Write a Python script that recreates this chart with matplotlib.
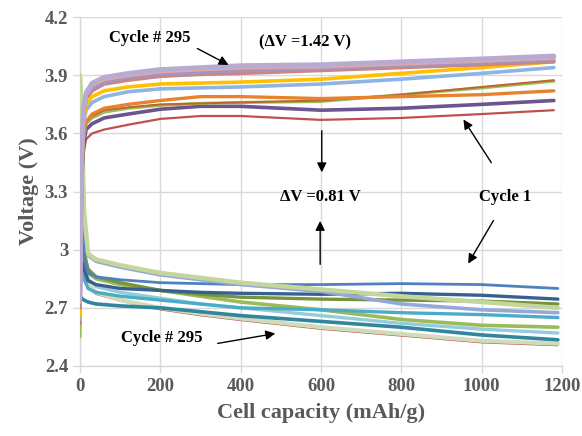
import matplotlib
matplotlib.use("Agg")
import matplotlib.pyplot as plt

# charge curves (upper family)
charge_x = [0, 4, 8, 15, 30, 60, 120, 200, 300, 400, 600, 800, 1000, 1180]
charge_curves = {
    "red":       [2.72, 3.30, 3.48, 3.57, 3.60, 3.62, 3.645, 3.675, 3.69, 3.69, 3.67, 3.68, 3.70, 3.72],
    "purple":    [2.70, 3.32, 3.53, 3.62, 3.65, 3.68, 3.70, 3.725, 3.74, 3.74, 3.72, 3.73, 3.75, 3.77],
    "green":     [2.55, 3.35, 3.56, 3.65, 3.68, 3.71, 3.73, 3.745, 3.755, 3.76, 3.765, 3.80, 3.835, 3.87],
    "brown":     [2.62, 3.35, 3.57, 3.66, 3.69, 3.72, 3.735, 3.75, 3.755, 3.76, 3.77, 3.80, 3.84, 3.875],
    "orange":    [2.62, 3.36, 3.58, 3.66, 3.70, 3.73, 3.75, 3.77, 3.79, 3.79, 3.78, 3.79, 3.80, 3.82],
    "lightblue": [2.64, 3.40, 3.64, 3.72, 3.76, 3.79, 3.815, 3.83, 3.835, 3.84, 3.855, 3.88, 3.91, 3.94],
    "yellow":    [2.66, 3.42, 3.66, 3.75, 3.79, 3.82, 3.84, 3.855, 3.86, 3.865, 3.88, 3.91, 3.94, 3.97],
    "rose":      [2.70, 3.44, 3.69, 3.78, 3.82, 3.855, 3.875, 3.895, 3.905, 3.91, 3.925, 3.94, 3.955, 3.97],
    "mauve":     [2.72, 3.45, 3.70, 3.79, 3.83, 3.865, 3.89, 3.905, 3.915, 3.925, 3.935, 3.95, 3.965, 3.98],
    "pink":      [2.73, 3.46, 3.71, 3.80, 3.85, 3.88, 3.90, 3.92, 3.93, 3.94, 3.945, 3.96, 3.975, 3.99],
    "lavender":  [2.75, 3.47, 3.72, 3.81, 3.86, 3.89, 3.91, 3.93, 3.94, 3.95, 3.955, 3.97, 3.985, 4.00],
}

# discharge curves (lower family)
discharge_x = [0, 4, 10, 20, 40, 100, 200, 300, 400, 600, 800, 1000, 1190]
discharge_curves = {
    "red2":      [3.85, 3.50, 2.95, 2.80, 2.77, 2.735, 2.69, 2.66, 2.635, 2.59, 2.555, 2.52, 2.505],
    "palegrey":  [3.90, 3.60, 3.00, 2.82, 2.78, 2.74, 2.70, 2.67, 2.645, 2.60, 2.565, 2.53, 2.515],
    "darkteal":  [2.76, 2.75, 2.74, 2.73, 2.72, 2.71, 2.70, 2.68, 2.66, 2.63, 2.60, 2.56, 2.535],
    "lightblue2":[3.85, 3.50, 2.95, 2.85, 2.81, 2.78, 2.75, 2.72, 2.70, 2.66, 2.62, 2.59, 2.57],
    "ygreen":    [3.85, 3.60, 3.00, 2.88, 2.85, 2.82, 2.79, 2.76, 2.73, 2.69, 2.64, 2.61, 2.60],
    "teal":      [3.80, 3.30, 2.85, 2.80, 2.78, 2.76, 2.74, 2.72, 2.70, 2.69, 2.675, 2.665, 2.65],
    "olive":     [3.85, 3.50, 2.98, 2.90, 2.86, 2.83, 2.79, 2.77, 2.755, 2.745, 2.74, 2.735, 2.72],
    "darkblue":  [3.85, 3.40, 2.90, 2.84, 2.82, 2.80, 2.79, 2.78, 2.775, 2.77, 2.775, 2.765, 2.745],
    "blue":      [3.85, 3.50, 2.95, 2.88, 2.86, 2.845, 2.83, 2.825, 2.82, 2.82, 2.825, 2.82, 2.80],
    "lavblue":   [3.90, 3.65, 3.15, 2.97, 2.94, 2.91, 2.87, 2.845, 2.82, 2.785, 2.72, 2.69, 2.675],
    "palegreen": [3.90, 3.70, 3.20, 2.98, 2.95, 2.92, 2.88, 2.855, 2.83, 2.795, 2.76, 2.73, 2.70],
}

styles = {
    "red": ("#c0504d", 1.6), "purple": ("#6b548f", 2.6), "green": ("#9bbb59", 2.2),
    "brown": ("#c0642c", 1.4), "orange": ("#e8822f", 2.4), "lightblue": ("#8eb4e3", 2.6),
    "yellow": ("#ffc000", 2.6), "rose": ("#cc8583", 2.6), "mauve": ("#a495c0", 2.6),
    "pink": ("#dcaaa8", 2.8), "lavender": ("#b8aad0", 3.4),
    "red2": ("#c0504d", 1.0), "palegrey": ("#cfdcba", 3.0), "darkteal": ("#31859c", 2.6),
    "lightblue2": ("#93cddd", 2.4), "ygreen": ("#9bbb59", 2.6), "teal": ("#4bacc6", 2.4),
    "olive": ("#77933c", 2.4), "darkblue": ("#376092", 2.4), "blue": ("#4f81bd", 2.0),
    "lavblue": ("#95a8d8", 2.6), "palegreen": ("#c3d69b", 3.2),
}

plt.rcParams["font.family"] = ["Liberation Serif", "DejaVu Serif"]
plt.rcParams["font.weight"] = "bold"

fig = plt.figure(figsize=(5.82, 4.36), dpi=100)
ax = fig.add_axes([0.1375, 0.1606, 0.828, 0.800])

for name, vals in discharge_curves.items():
    c, lw = styles[name]
    ax.plot(discharge_x, vals, color=c, lw=lw, solid_capstyle="round", zorder=3)
for name, vals in charge_curves.items():
    c, lw = styles[name]
    ax.plot(charge_x, vals, color=c, lw=lw, solid_capstyle="round", zorder=3)

ax.set_xlim(0, 1200)
ax.set_ylim(2.4, 4.2)
ax.set_xticks(range(0, 1201, 200))
ax.set_yticks([2.4, 2.7, 3.0, 3.3, 3.6, 3.9, 4.2])
ax.set_yticklabels(["2.4", "2.7", "3", "3.3", "3.6", "3.9", "4.2"])
ax.grid(True, color="#d9d9d9", lw=1.0, zorder=0)
for s in ["top", "right"]:
    ax.spines[s].set_visible(False)
for s in ["left", "bottom"]:
    ax.spines[s].set_color("#d9d9d9")
    ax.spines[s].set_linewidth(1.0)
ax.tick_params(colors="#595959", labelsize=13.5, length=5, width=1, direction="out")
ax.tick_params(axis="both", color="#d9d9d9")
for lab in ax.get_xticklabels() + ax.get_yticklabels():
    lab.set_fontweight("bold")
    lab.set_color("#595959")

ax.set_xlabel("Cell capacity (mAh/g)", fontsize=16, fontweight="bold", color="#595959", labelpad=6)
ax.set_ylabel("Voltage (V)", fontsize=16, fontweight="bold", color="#595959", labelpad=4)

akw = dict(arrowstyle="-|>", color="black", lw=1.0, mutation_scale=14)
tkw = dict(fontsize=12, fontweight="bold", color="black", ha="center", va="center")

ax.text(174, 4.092, "Cycle # 295", **tkw)
ax.annotate("", xy=(376, 3.947), xytext=(286, 4.045), arrowprops=akw)
ax.text(560, 4.07, "(ΔV =1.42 V)", **tkw)
ax.annotate("", xy=(602, 3.385), xytext=(602, 3.628), arrowprops=akw)
ax.text(598, 3.272, "ΔV =0.81 V", **tkw)
ax.annotate("", xy=(598, 3.163), xytext=(598, 2.91), arrowprops=akw)
ax.text(1058, 3.272, "Cycle 1", **tkw)
ax.annotate("", xy=(951, 3.684), xytext=(1028, 3.437), arrowprops=akw)
ax.annotate("", xy=(963, 2.916), xytext=(1033, 3.163), arrowprops=akw)
ax.text(204, 2.545, "Cycle # 295", **tkw)
ax.annotate("", xy=(493, 2.57), xytext=(336, 2.514), arrowprops=akw)

fig.savefig("out.png", dpi=100)
